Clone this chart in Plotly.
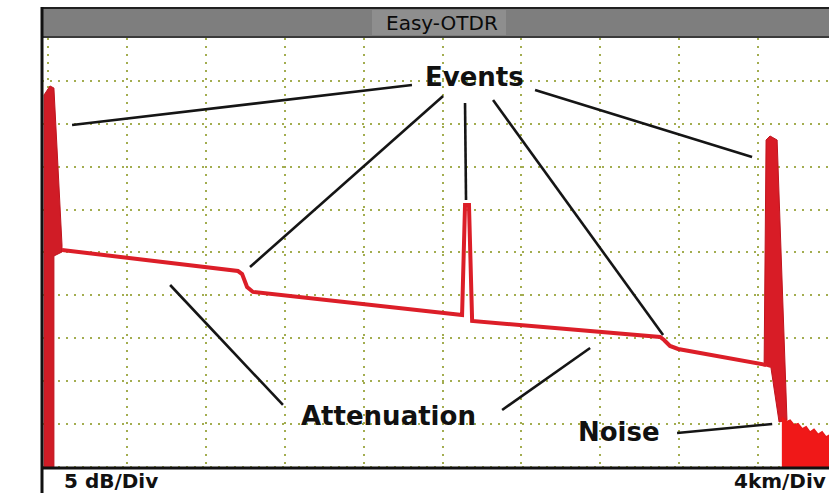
import plotly.graph_objects as go

# OTDR trace: distance in km (4 km/div), level in dB (5 dB/div)
trace_km = [0.71, 9.63, 9.84, 10.09, 10.39, 20.99, 21.14, 21.34, 21.50,
            31.03, 31.23, 31.53, 31.94, 36.40]
trace_db = [25.29, 22.84, 22.49, 20.98, 20.40, 17.72, 30.54, 30.54, 17.02,
            15.15, 14.80, 14.10, 13.75, 11.89]

# front-end reflection at the launch point
launch_km = [-0.20, -0.20, 0.10, 0.30, 0.71, 0.71, 0.30, 0.30]
launch_db = [-0.12, 43.36, 44.41, 44.17, 25.87, 25.06, 24.59, -0.12]

# far-end reflection
end_km = [36.30, 36.40, 36.60, 36.96, 37.46, 37.06, 36.65]
end_db = [11.77, 38.11, 38.58, 38.11, 5.48, 5.24, 11.54]

# noise floor after the fibre end
noise_km = [37.20, 37.47, 37.62, 37.82, 38.02, 38.23, 38.43, 38.63, 38.83,
            39.04, 39.24, 39.44, 39.70, 39.70, 37.20]
noise_db = [5.83, 5.30, 5.45, 4.90, 5.05, 4.45, 4.70, 4.05, 4.40,
            3.80, 4.10, 3.50, 3.80, -0.12, -0.12]

# callout labels and their pointer lines (start km, start dB, end km, end dB)
labels = ["Events", "Attenuation", "Noise"]
label_km = [21.60, 17.26, 28.92]
label_db = [45.40, 5.94, 4.08]
pointers = {
    "Events": [(18.45, 44.52, 1.22, 39.86),
               (20.03, 43.24, 10.24, 23.31),
               (21.14, 42.42, 21.19, 31.12),
               (22.56, 42.77, 31.18, 15.38),
               (24.69, 43.94, 35.69, 36.13)],
    "Attenuation": [(11.91, 7.23, 6.19, 21.21),
                    (23.02, 6.64, 27.48, 13.87)],
    "Noise": [(31.89, 3.96, 36.71, 5.01)],
}

title_text = "Easy-OTDR"
scale_left = "5 dB/Div"
scale_right = "4km/Div"

RED = "#dc1e28"
fig = go.Figure()

fig.add_trace(go.Scatter(x=launch_km, y=launch_db, mode="lines", fill="toself",
                         fillcolor="#d01c26", line=dict(color="#c0141e", width=1),
                         hoverinfo="skip"))
fig.add_trace(go.Scatter(x=end_km, y=end_db, mode="lines", fill="toself",
                         fillcolor="#d81c26", line=dict(color="#c0141e", width=1),
                         hoverinfo="skip"))
fig.add_trace(go.Scatter(x=noise_km, y=noise_db, mode="lines", fill="toself",
                         fillcolor="#f01818", line=dict(color="#e81818", width=1.5),
                         hoverinfo="skip"))
fig.add_trace(go.Scatter(x=trace_km, y=trace_db, mode="lines",
                         line=dict(color=RED, width=4), hoverinfo="skip"))

for name in labels:
    for x0, y0, x1, y1 in pointers[name]:
        fig.add_trace(go.Scatter(x=[x0, x1], y=[y0, y1], mode="lines",
                                 line=dict(color="#151515", width=2.6),
                                 hoverinfo="skip"))

for name, lx, ly in zip(labels, label_km, label_db):
    fig.add_annotation(x=lx, y=ly, xref="x", yref="y", text=name, showarrow=False,
                       xanchor="center", yanchor="middle",
                       font=dict(family="DejaVu Sans", size=26, color="#111111",
                                 weight="bold"))

def px_x(p):
    return (p - 42) / 787.0

def px_y(p):
    return (468 - p) / 430.0

shapes = [
    # title bar
    dict(type="rect", xref="paper", yref="paper", x0=0, x1=1.02,
         y0=px_y(38), y1=px_y(7), fillcolor="#7e7e7e", line=dict(width=0), layer="above"),
    dict(type="rect", xref="paper", yref="paper", x0=px_x(372), x1=px_x(506),
         y0=px_y(35), y1=px_y(10), fillcolor="#8e8e8e", line=dict(width=0), layer="above"),
    dict(type="line", xref="paper", yref="paper", x0=0, x1=1.02,
         y0=px_y(8), y1=px_y(8), line=dict(color="#202020", width=2), layer="above"),
    dict(type="line", xref="paper", yref="paper", x0=0, x1=1.02,
         y0=px_y(37), y1=px_y(37), line=dict(color="#3a3a3a", width=2), layer="above"),
    # bottom edge of the plot and left frame
    dict(type="line", xref="paper", yref="paper", x0=0, x1=1.02,
         y0=px_y(468), y1=px_y(468), line=dict(color="#111111", width=3), layer="above"),
    dict(type="line", xref="paper", yref="paper", x0=px_x(42), x1=px_x(42),
         y0=px_y(494), y1=px_y(7), line=dict(color="#111111", width=3), layer="above"),
]

fig.add_annotation(x=px_x(442), y=px_y(22.5), xref="paper", yref="paper",
                   text=title_text, showarrow=False, xanchor="center", yanchor="middle",
                   font=dict(family="DejaVu Sans", size=20, color="#0a0a0a"))
fig.add_annotation(x=px_x(62), y=px_y(481), xref="paper", yref="paper",
                   text=scale_left, showarrow=False, xanchor="left", yanchor="middle",
                   font=dict(family="DejaVu Sans", size=20, color="#111111", weight="bold"))
fig.add_annotation(x=px_x(828), y=px_y(481), xref="paper", yref="paper",
                   text=scale_right, showarrow=False, xanchor="right", yanchor="middle",
                   font=dict(family="DejaVu Sans", size=20, color="#111111", weight="bold"))

grid = dict(showgrid=True, gridcolor="#a3ad50", gridwidth=2, griddash="2px,6px",
            zeroline=False, showticklabels=False, ticks="", showline=False)

fig.update_layout(
    width=829, height=493,
    margin=dict(l=42, r=0, t=38, b=25),
    paper_bgcolor="white", plot_bgcolor="white",
    showlegend=False,
    shapes=shapes,
    xaxis=dict(range=[-0.304, 39.59], tick0=0, dtick=4, fixedrange=True, **grid),
    yaxis=dict(range=[-0.12, 50], tick0=0, dtick=5, fixedrange=True, **grid),
)

fig.write_html("out.html")
